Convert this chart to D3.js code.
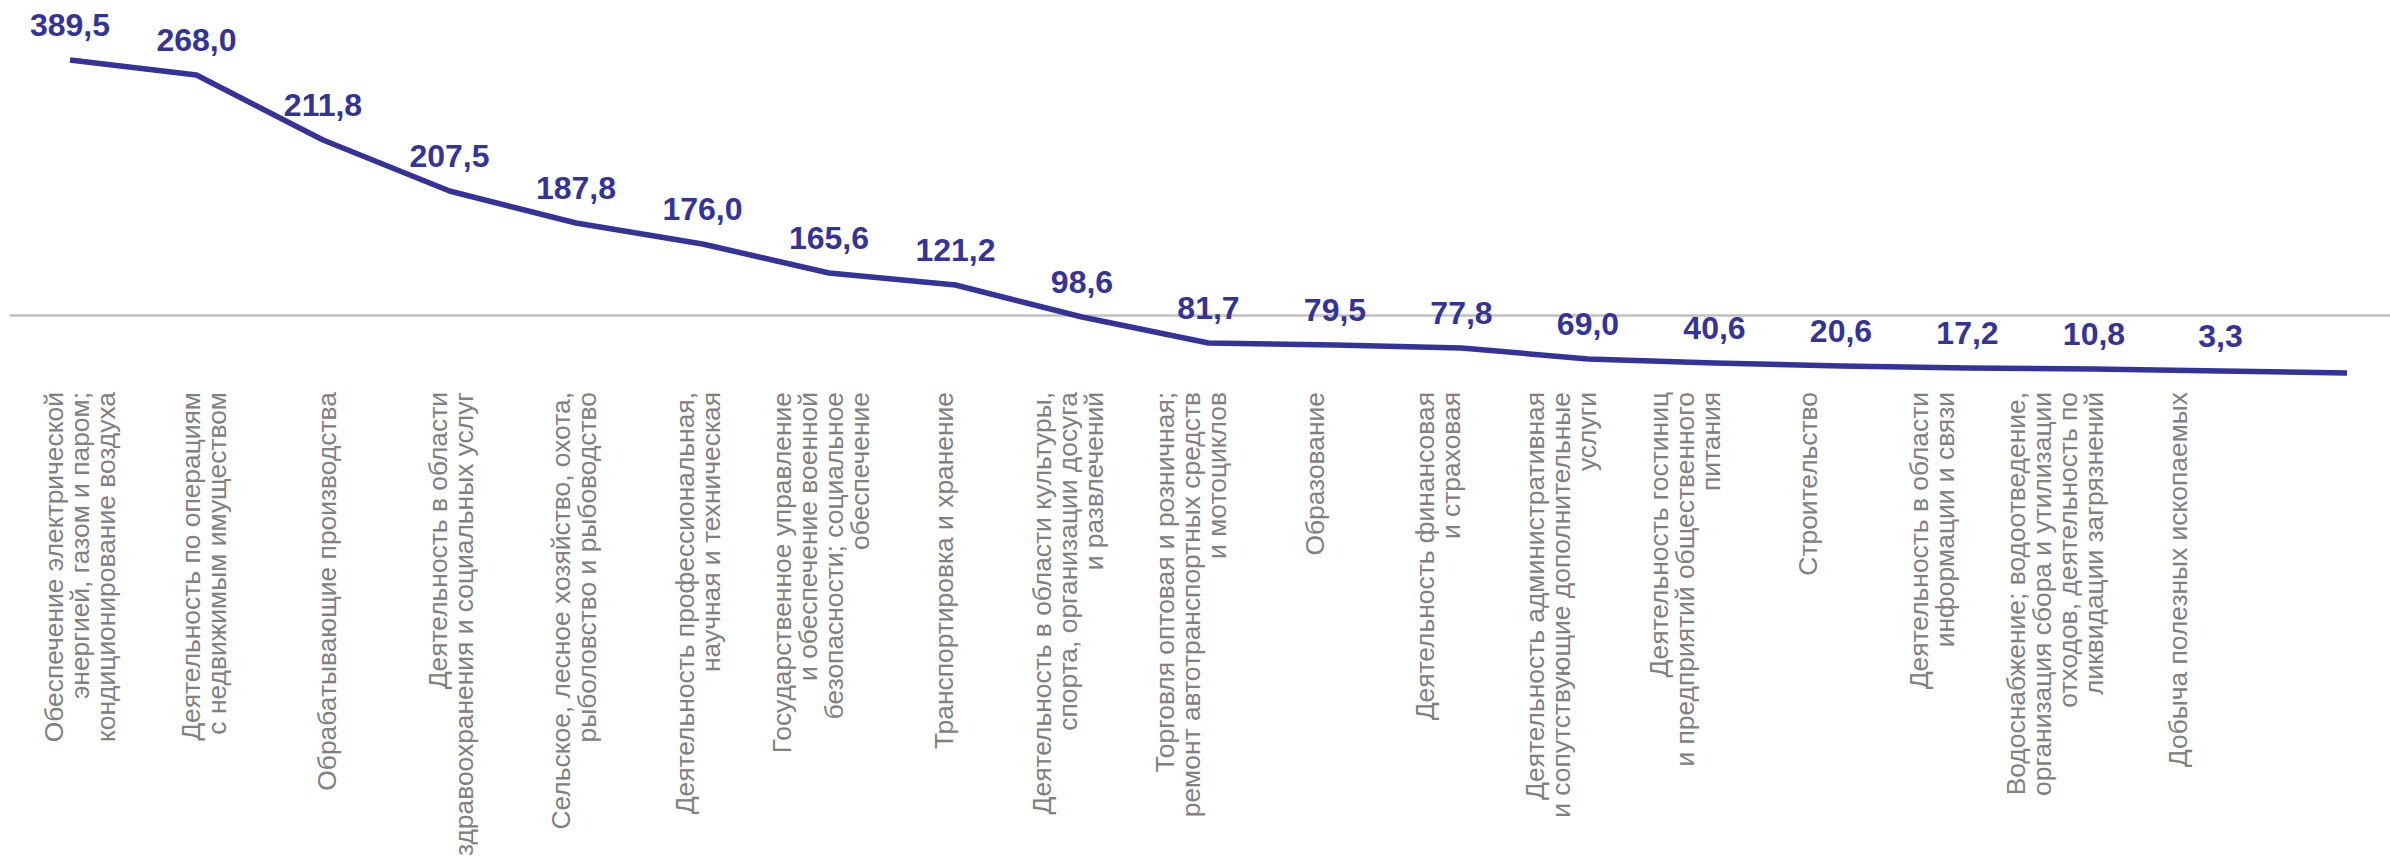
<!DOCTYPE html>
<html><head><meta charset="utf-8">
<script src="https://cdn.jsdelivr.net/npm/d3@7"></script>
<style>html,body{margin:0;padding:0;background:#fff;overflow:hidden}</style>
</head><body>
<svg id="c" width="2390" height="857"></svg>
<script>
// Category names (line breaks as in the reference)
const categories = [
  ["Обеспечение электрической", "энергией, газом и паром;", "кондиционирование воздуха"],
  ["Деятельность по операциям", "с недвижимым имуществом"],
  ["Обрабатывающие производства"],
  ["Деятельность в области", "здравоохранения и социальных услуг"],
  ["Сельское, лесное хозяйство, охота,", "рыболовство и рыбоводство"],
  ["Деятельность профессиональная,", "научная и техническая"],
  ["Государственное управление", "и обеспечение военной", "безопасности; социальное", "обеспечение"],
  ["Транспортировка и хранение"],
  ["Деятельность в области культуры,", "спорта, организации досуга", "и развлечений"],
  ["Торговля оптовая и розничная;", "ремонт автотранспортных средств", "и мотоциклов"],
  ["Образование"],
  ["Деятельность финансовая", "и страховая"],
  ["Деятельность административная", "и сопутствующие дополнительные", "услуги"],
  ["Деятельность гостиниц", "и предприятий общественного", "питания"],
  ["Строительство"],
  ["Деятельность в области", "информации и связи"],
  ["Водоснабжение; водоотведение,", "организация сбора и утилизации", "отходов, деятельность по", "ликвидации загрязнений"],
  ["Добыча полезных ископаемых"]
];
// Data label values shown above the line
const valueLabels = [389.5, 268.0, 211.8, 207.5, 187.8, 176.0, 165.6, 121.2, 98.6, 81.7, 79.5, 77.8, 69.0, 40.6, 20.6, 17.2, 10.8, 3.3];
// Plotted line values (as drawn; axis crosses at 0)
const lineValues = [255, 240, 175, 124, 92, 71, 42, 30, -2, -28, -30, -33, -44, -48, -51, -53, -54, -56, -58];

const W = 2390, H = 857;
const lineColor = "#333399";
const textGray = "#808080";
const font = "'Liberation Sans', Arial, sans-serif";

const svg = d3.select("#c");

const x = d3.scalePoint().domain(d3.range(lineValues.length)).range([70, 2347]);
const xCat = d3.scalePoint().domain(d3.range(categories.length)).range([80, 2178]);
const y = d3.scaleLinear().domain([-60, 260]).range([375, 55]);
const xAxisScale = d3.scaleLinear().domain([0, 1]).range([9, W]);

// horizontal axis line (crosses at 0)
const axis = d3.axisBottom(xAxisScale).tickValues([]).tickSize(0).tickSizeOuter(0);
const gAxis = svg.append("g").attr("transform", `translate(0,${y(0)})`).call(axis);
gAxis.select(".domain").attr("stroke", "#c0c0c0").attr("stroke-width", 2.5);

// line
const line = d3.line().x((d, i) => x(i)).y(d => y(d));
svg.append("path")
  .datum(lineValues)
  .attr("d", line)
  .attr("fill", "none")
  .attr("stroke", lineColor)
  .attr("stroke-width", 5.5)
  .attr("stroke-linejoin", "round");

// data labels
const fmt = v => d3.format(".1f")(v).replace(".", ",");
svg.append("g").selectAll("text")
  .data(valueLabels)
  .join("text")
  .attr("x", (d, i) => x(i))
  .attr("y", (d, i) => y(lineValues[i]) - 24)
  .attr("text-anchor", "middle")
  .attr("font-family", font)
  .attr("font-weight", "bold")
  .attr("font-size", 32)
  .attr("fill", lineColor)
  .text(fmt);

// category labels (rotated, end-anchored at top)
const fs = 26.4, lh = 26, capH = fs * 0.716, topY = 392;
const gCat = svg.append("g");
categories.forEach((lines, i) => {
  const n = lines.length;
  const x0 = xCat(i) - ((n - 1) * lh - capH) / 2;
  const t = gCat.append("text")
    .attr("transform", `translate(${x0},${topY}) rotate(-90)`)
    .attr("text-anchor", "end")
    .attr("font-family", font)
    .attr("font-size", fs)
    .attr("fill", textGray);
  lines.forEach((ln, k) => {
    t.append("tspan").attr("x", 0).attr("y", k * lh).text(ln);
  });
});
</script>
</body></html>
